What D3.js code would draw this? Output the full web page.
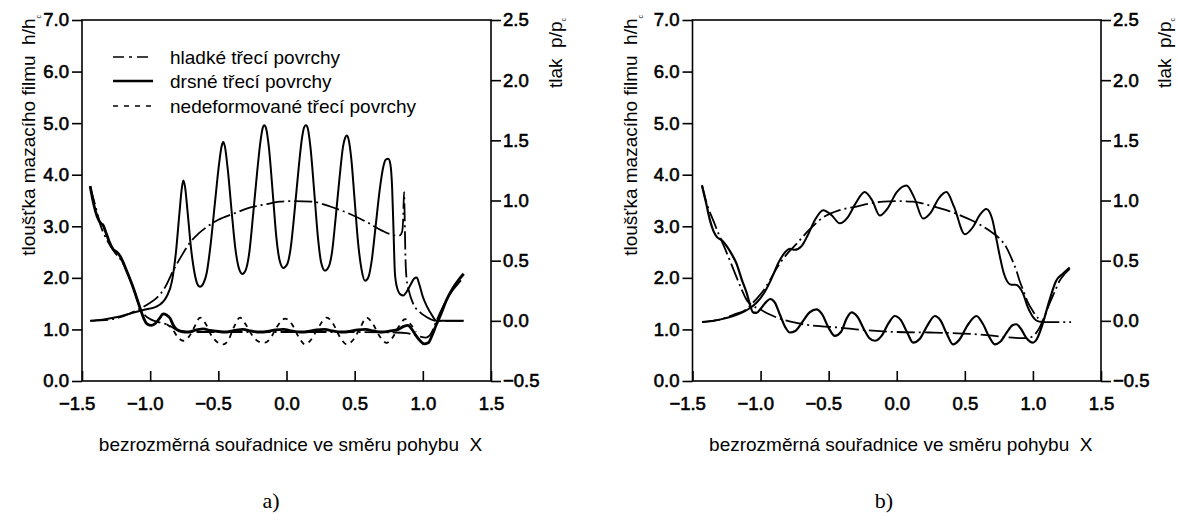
<!DOCTYPE html>
<html>
<head>
<meta charset="utf-8">
<script src="https://cdn.jsdelivr.net/npm/d3@7"></script>
<style>
  html, body { margin: 0; padding: 0; background: #fff; }
  svg { font-family: "Liberation Sans", Arial, Helvetica, sans-serif; }
  svg text { fill: #000; }
</style>
</head>
<body>
<svg id="chart" width="1178" height="524"></svg>
<script>
// ---- axes ----
const xTicks = [-1.5, -1.0, -0.5, 0.0, 0.5, 1.0, 1.5];
const hTicks = [0, 1, 2, 3, 4, 5, 6, 7];
const pTicks = [-0.5, 0.0, 0.5, 1.0, 1.5, 2.0, 2.5];

const xTitle = "bezrozměrná souřadnice ve směru pohybu\u00a0\u00a0X";
const hTitle = "tloušťka mazacího filmu\u00a0\u00a0h/h";
const pTitle = "tlak\u00a0\u00a0p/p";
const legendLabels = ["hladké třecí povrchy", "drsné třecí povrchy", "nedeformované třecí povrchy"];

// ---- panel a: pressure p/pc, [X, p] ----
const aSmoothPressure = [
  [-1.44, 0.00], [-1.30, 0.01], [-1.22, 0.03], [-1.15, 0.06], [-1.075, 0.10], [-1.00, 0.15],
  [-0.952, 0.19], [-0.89, 0.28], [-0.83, 0.42], [-0.77, 0.54], [-0.708, 0.65], [-0.65, 0.72],
  [-0.585, 0.78], [-0.50, 0.84], [-0.39, 0.89], [-0.27, 0.94], [-0.145, 0.97], [-0.05, 0.99],
  [0.05, 0.995], [0.19, 0.99], [0.32, 0.95], [0.44, 0.90], [0.59, 0.82], [0.70, 0.75],
  [0.76, 0.72], [0.80, 0.71], [0.83, 0.71], [0.848, 0.74], [0.856, 0.85], [0.862, 1.07],
  [0.867, 0.85], [0.872, 0.55], [0.88, 0.36], [0.90, 0.24], [0.93, 0.14], [0.98, 0.07],
  [1.03, 0.03], [1.10, 0.00], [1.20, 0.00], [1.30, 0.00]
];
const aRoughPressure = [
  [-1.44, 0.00], [-1.35, 0.01], [-1.25, 0.03], [-1.15, 0.06], [-1.05, 0.09], [-0.95, 0.12],
  [-0.88, 0.20], [-0.84, 0.33], [-0.81, 0.58], [-0.785, 0.90], [-0.768, 1.10], [-0.757, 1.167],
  [-0.745, 1.12], [-0.725, 0.90], [-0.70, 0.60], [-0.675, 0.40], [-0.655, 0.31], [-0.634, 0.283],
  [-0.61, 0.31], [-0.585, 0.40], [-0.555, 0.65], [-0.525, 0.98], [-0.495, 1.30], [-0.476, 1.45],
  [-0.464, 1.486], [-0.452, 1.45], [-0.43, 1.25], [-0.40, 0.88], [-0.375, 0.60], [-0.35, 0.44],
  [-0.324, 0.39], [-0.30, 0.42], [-0.275, 0.55], [-0.245, 0.88], [-0.215, 1.24], [-0.19, 1.50],
  [-0.175, 1.60], [-0.163, 1.625], [-0.15, 1.60], [-0.13, 1.45], [-0.10, 1.05], [-0.075, 0.70],
  [-0.05, 0.50], [-0.023, 0.44], [0.005, 0.47], [0.03, 0.60], [0.06, 0.92], [0.09, 1.28],
  [0.115, 1.53], [0.13, 1.61], [0.143, 1.625], [0.156, 1.60], [0.175, 1.45], [0.205, 1.05],
  [0.23, 0.70], [0.255, 0.48], [0.282, 0.417], [0.31, 0.45], [0.335, 0.58], [0.36, 0.85],
  [0.39, 1.20], [0.415, 1.45], [0.43, 1.52], [0.442, 1.54], [0.455, 1.51], [0.475, 1.35],
  [0.50, 1.00], [0.525, 0.65], [0.55, 0.43], [0.576, 0.333], [0.60, 0.36], [0.625, 0.50],
  [0.655, 0.80], [0.685, 1.10], [0.71, 1.28], [0.728, 1.34], [0.747, 1.346], [0.762, 1.30],
  [0.775, 1.10], [0.785, 0.75], [0.795, 0.40], [0.81, 0.28], [0.835, 0.22], [0.857, 0.21],
  [0.88, 0.24], [0.91, 0.30], [0.935, 0.35], [0.955, 0.36], [0.975, 0.30], [1.00, 0.20],
  [1.03, 0.12], [1.065, 0.05], [1.10, 0.00], [1.20, 0.00], [1.30, 0.00]
];

// ---- panel a: film thickness h/hc, [X, h] ----
const aSmoothFilm = [
  [-1.44, 3.76], [-1.40, 3.38], [-1.368, 3.05], [-1.32, 2.75], [-1.27, 2.53], [-1.197, 2.27],
  [-1.16, 2.05], [-1.124, 1.81], [-1.10, 1.62], [-1.075, 1.43], [-1.04, 1.28], [-1.00, 1.20],
  [-0.94, 1.14], [-0.879, 1.10], [-0.83, 1.03], [-0.78, 0.97], [-0.70, 0.95], [-0.40, 0.95],
  [0.00, 0.95], [0.40, 0.95], [0.80, 0.94], [0.88, 0.93], [0.93, 0.90], [0.98, 0.86],
  [1.02, 0.84], [1.06, 0.92], [1.10, 1.17], [1.15, 1.45], [1.20, 1.69], [1.25, 1.86], [1.30, 2.01]
];
const aRoughFilm = [
  [-1.44, 3.78], [-1.42, 3.50], [-1.39, 3.20], [-1.36, 3.05], [-1.345, 3.02], [-1.33, 2.92],
  [-1.30, 2.70], [-1.27, 2.55], [-1.245, 2.50], [-1.22, 2.42], [-1.19, 2.25], [-1.17, 2.12],
  [-1.13, 1.85], [-1.10, 1.62], [-1.07, 1.38], [-1.045, 1.20], [-1.02, 1.10], [-0.99, 1.08],
  [-0.96, 1.12], [-0.93, 1.22], [-0.905, 1.30], [-0.88, 1.28], [-0.855, 1.22], [-0.83, 1.08],
  [-0.806, 1.00], [-0.77, 0.96], [-0.72, 0.95], [-0.66, 0.99], [-0.61, 1.01], [-0.56, 0.98],
  [-0.50, 0.96], [-0.44, 0.95], [-0.38, 0.98], [-0.32, 1.00], [-0.26, 0.97], [-0.20, 0.95],
  [-0.14, 0.96], [-0.08, 0.99], [-0.02, 1.00], [0.04, 0.97], [0.10, 0.95], [0.16, 0.96],
  [0.22, 0.99], [0.28, 1.00], [0.34, 0.97], [0.40, 0.95], [0.46, 0.96], [0.52, 0.99],
  [0.58, 1.00], [0.64, 0.97], [0.70, 0.95], [0.76, 0.97], [0.82, 1.00], [0.86, 1.06],
  [0.89, 1.08], [0.92, 1.00], [0.95, 0.88], [0.98, 0.78], [1.01, 0.72], [1.04, 0.74],
  [1.07, 0.90], [1.10, 1.10], [1.13, 1.28], [1.17, 1.55], [1.22, 1.80], [1.26, 1.95], [1.30, 2.08]
];
const aUndeformedFilm = [
  [-0.88, 1.10], [-0.84, 1.02], [-0.80, 0.86], [-0.757, 0.78], [-0.715, 0.86], [-0.675, 1.05],
  [-0.634, 1.23], [-0.595, 1.12], [-0.55, 0.88], [-0.50, 0.74], [-0.464, 0.71], [-0.425, 0.80],
  [-0.385, 1.05], [-0.341, 1.23], [-0.30, 1.10], [-0.25, 0.88], [-0.20, 0.76], [-0.158, 0.745],
  [-0.12, 0.82], [-0.07, 1.05], [-0.01, 1.21], [0.04, 1.10], [0.09, 0.85], [0.136, 0.71],
  [0.18, 0.80], [0.23, 1.02], [0.295, 1.23], [0.34, 1.12], [0.39, 0.86], [0.442, 0.71],
  [0.49, 0.80], [0.54, 1.03], [0.588, 1.23], [0.635, 1.10], [0.685, 0.86], [0.735, 0.74],
  [0.78, 0.85], [0.825, 1.06], [0.87, 1.20], [0.91, 1.10], [0.95, 0.95]
];

// ---- panel b: pressure p/pc, [X, p] ----
const bSmoothPressure = [
  [-1.43, -0.01], [-1.30, 0.01], [-1.20, 0.05], [-1.10, 0.10], [-1.04, 0.17], [-0.98, 0.25],
  [-0.93, 0.34], [-0.88, 0.44], [-0.81, 0.55], [-0.736, 0.64], [-0.64, 0.76], [-0.54, 0.86],
  [-0.42, 0.92], [-0.296, 0.95], [-0.20, 0.975], [-0.10, 0.99], [0.00, 0.995], [0.12, 0.99],
  [0.24, 0.96], [0.365, 0.92], [0.46, 0.88], [0.56, 0.83], [0.68, 0.75], [0.75, 0.69],
  [0.805, 0.61], [0.85, 0.50], [0.878, 0.42], [0.90, 0.34], [0.93, 0.25], [0.96, 0.16],
  [1.00, 0.08], [1.04, 0.02], [1.086, -0.01], [1.18, -0.01], [1.28, -0.01]
];
const bRoughPressure = [
  [-1.43, -0.01], [-1.30, 0.01], [-1.20, 0.04], [-1.10, 0.09], [-1.03, 0.15], [-0.97, 0.24],
  [-0.92, 0.35], [-0.87, 0.48], [-0.82, 0.57], [-0.785, 0.60], [-0.75, 0.59], [-0.70, 0.62],
  [-0.65, 0.72], [-0.60, 0.84], [-0.54, 0.92], [-0.48, 0.88], [-0.418, 0.81], [-0.36, 0.86],
  [-0.30, 0.98], [-0.235, 1.07], [-0.18, 1.00], [-0.125, 0.875], [-0.07, 0.93], [0.00, 1.07],
  [0.071, 1.125], [0.13, 1.02], [0.193, 0.85], [0.25, 0.90], [0.31, 1.02], [0.365, 1.07],
  [0.42, 0.95], [0.50, 0.72], [0.56, 0.78], [0.61, 0.88], [0.658, 0.93], [0.70, 0.85],
  [0.73, 0.69], [0.76, 0.52], [0.785, 0.40], [0.81, 0.33], [0.84, 0.30], [0.87, 0.30],
  [0.90, 0.28], [0.93, 0.22], [0.96, 0.12], [0.99, 0.05], [1.03, 0.00], [1.07, -0.01]
];

// ---- panel b: film thickness h/hc, [X, h] ----
const bSmoothFilm = [
  [-1.43, 3.80], [-1.40, 3.48], [-1.347, 3.11], [-1.30, 2.80], [-1.27, 2.62], [-1.22, 2.30],
  [-1.176, 2.01], [-1.14, 1.78], [-1.10, 1.56], [-1.05, 1.45], [-1.005, 1.39], [-0.94, 1.30],
  [-0.88, 1.23], [-0.78, 1.15], [-0.687, 1.10], [-0.55, 1.06], [-0.442, 1.04], [-0.30, 1.00],
  [-0.149, 0.97], [0.00, 0.95], [0.24, 0.94], [0.40, 0.93], [0.56, 0.91], [0.70, 0.88],
  [0.80, 0.85], [0.853, 0.84], [0.92, 0.83], [0.976, 0.84], [1.02, 0.92], [1.05, 1.04],
  [1.085, 1.25], [1.12, 1.49], [1.16, 1.73], [1.195, 1.94], [1.235, 2.08], [1.27, 2.17]
];
const bRoughFilm = [
  [-1.43, 3.78], [-1.40, 3.45], [-1.37, 3.10], [-1.345, 2.90], [-1.32, 2.79], [-1.29, 2.74],
  [-1.25, 2.62], [-1.21, 2.45], [-1.176, 2.27], [-1.14, 1.98], [-1.10, 1.69], [-1.075, 1.45],
  [-1.055, 1.33], [-1.03, 1.32], [-1.00, 1.40], [-0.96, 1.53], [-0.93, 1.59], [-0.895, 1.52],
  [-0.86, 1.30], [-0.82, 1.05], [-0.785, 0.94], [-0.745, 0.97], [-0.70, 1.12], [-0.64, 1.33],
  [-0.589, 1.39], [-0.55, 1.30], [-0.50, 1.03], [-0.455, 0.875], [-0.41, 0.95], [-0.37, 1.20],
  [-0.332, 1.33], [-0.29, 1.25], [-0.24, 1.00], [-0.20, 0.83], [-0.16, 0.78], [-0.11, 0.88],
  [-0.06, 1.12], [-0.015, 1.26], [0.03, 1.18], [0.08, 0.92], [0.12, 0.745], [0.17, 0.82],
  [0.23, 1.10], [0.28, 1.26], [0.32, 1.18], [0.37, 0.90], [0.413, 0.71], [0.46, 0.80],
  [0.52, 1.08], [0.585, 1.26], [0.63, 1.12], [0.68, 0.85], [0.72, 0.71], [0.76, 0.76],
  [0.81, 0.95], [0.85, 1.08], [0.878, 1.10], [0.91, 1.02], [0.95, 0.84], [0.98, 0.76],
  [1.00, 0.745], [1.03, 0.82], [1.074, 1.13], [1.12, 1.55], [1.17, 1.94], [1.22, 2.08], [1.27, 2.20]
];

// ---- drawing ----
const svg = d3.select("#chart");
const FONT = 18.5;
const TITLE_FONT = 19;
const DASHDOT = "18,4,2,4";
const DASHED = "5,5";
const fmt = d3.format(".1f");

function drawPanel(left, right, curves, labelX) {
  const top = 20, bottom = 381;
  const x = d3.scaleLinear().domain([-1.5, 1.5]).range([left, right]);
  const yH = d3.scaleLinear().domain([0, 7]).range([bottom, top]);
  const yP = d3.scaleLinear().domain([-0.5, 2.5]).range([bottom, top]);
  const g = svg.append("g");

  // frame
  g.append("rect")
    .attr("x", left).attr("y", top)
    .attr("width", right - left).attr("height", bottom - top)
    .attr("fill", "none").attr("stroke", "#000").attr("stroke-width", 1.6);

  const styleAxis = sel => {
    sel.select(".domain").remove();
    sel.selectAll("line").attr("stroke", "#000").attr("stroke-width", 1.6);
    sel.selectAll("text")
      .style("font-size", FONT + "px")
      .style("font-family", "'Liberation Sans', Arial, sans-serif")
      .attr("fill", "#000").attr("stroke", "#000").attr("stroke-width", 0.6);
  };

  // left axis h/hc
  g.append("g").attr("transform", `translate(${left},0)`)
    .call(d3.axisLeft(yH).tickValues(hTicks).tickFormat(fmt).tickSize(10).tickPadding(3))
    .call(styleAxis);

  // right axis p/pc
  g.append("g").attr("transform", `translate(${right},0)`)
    .call(d3.axisRight(yP).tickValues(pTicks).tickFormat(fmt).tickSize(10).tickPadding(2))
    .call(styleAxis);

  // bottom axis X, ticks pointing inward
  const xa = g.append("g").attr("transform", `translate(0,${bottom})`)
    .call(d3.axisBottom(x).tickValues(xTicks).tickFormat(fmt).tickSize(-10).tickPadding(16))
    .call(styleAxis);
  xa.selectAll(".tick text").attr("dx", d => d < 0 ? "-0.29em" : 0);

  // curves
  const lineH = d3.line().x(d => x(d[0])).y(d => yH(d[1])).curve(d3.curveMonotoneX);
  const lineP = d3.line().x(d => x(d[0])).y(d => yP(d[1])).curve(d3.curveMonotoneX);
  curves.forEach(c => {
    g.append("path")
      .attr("d", (c.axis === "p" ? lineP : lineH)(c.data))
      .attr("fill", "none").attr("stroke", "#000")
      .attr("stroke-width", c.width)
      .attr("stroke-linejoin", "round")
      .attr("stroke-dasharray", c.dash || null);
  });

  // axis titles
  g.append("text")
    .attr("x", (left + right) / 2 + 4).attr("y", 451)
    .attr("text-anchor", "middle").style("font-size", TITLE_FONT + "px")
    .text(xTitle);

  const hLab = g.append("text")
    .attr("transform", `translate(${labelX.h},15) rotate(-90)`)
    .attr("text-anchor", "end").style("font-size", TITLE_FONT + "px");
  hLab.append("tspan").text(hTitle);
  hLab.append("tspan").style("font-size", "7px").attr("dy", 6).text("c");

  const pLab = g.append("text")
    .attr("transform", `translate(${labelX.p},18) rotate(-90)`)
    .attr("text-anchor", "end").style("font-size", TITLE_FONT + "px");
  pLab.append("tspan").text(pTitle);
  pLab.append("tspan").style("font-size", "7px").attr("dy", 4).text("c");

  return { x, yH, yP };
}

// panel a
drawPanel(82, 491, [
  { axis: "p", data: aSmoothPressure, width: 1.8, dash: DASHDOT },
  { axis: "h", data: aSmoothFilm, width: 1.8, dash: DASHDOT },
  { axis: "h", data: aUndeformedFilm, width: 1.8, dash: DASHED },
  { axis: "p", data: aRoughPressure, width: 2.0 },
  { axis: "h", data: aRoughFilm, width: 2.8 }
], { h: 35, p: 562 });

// panel b
drawPanel(692.5, 1101, [
  { axis: "p", data: bSmoothPressure, width: 1.8, dash: DASHDOT },
  { axis: "h", data: bSmoothFilm, width: 1.8, dash: DASHDOT },
  { axis: "p", data: bRoughPressure, width: 2.0 },
  { axis: "h", data: bRoughFilm, width: 2.2 }
], { h: 637, p: 1171 });

// legend (panel a)
const legendStyles = [
  { dash: "11,5,3,5", width: 1.6 },
  { dash: null, width: 2.4 },
  { dash: "5,6", width: 1.4 }
];
const legendRows = [57, 81, 106];
legendLabels.forEach((label, i) => {
  svg.append("line")
    .attr("x1", 113).attr("x2", 153)
    .attr("y1", legendRows[i]).attr("y2", legendRows[i])
    .attr("stroke", "#000").attr("stroke-width", legendStyles[i].width)
    .attr("stroke-dasharray", legendStyles[i].dash);
  svg.append("text")
    .attr("x", 170).attr("y", legendRows[i] + 6.5)
    .style("font-size", TITLE_FONT + "px")
    .text(label);
});

// panel captions
[["a)", 271], ["b)", 884]].forEach(([t, cx]) => {
  svg.append("text")
    .attr("x", cx).attr("y", 508)
    .attr("text-anchor", "middle")
    .style("font-family", "'Liberation Serif', 'Times New Roman', serif")
    .style("font-size", "22px")
    .text(t);
});
</script>
</body>
</html>
